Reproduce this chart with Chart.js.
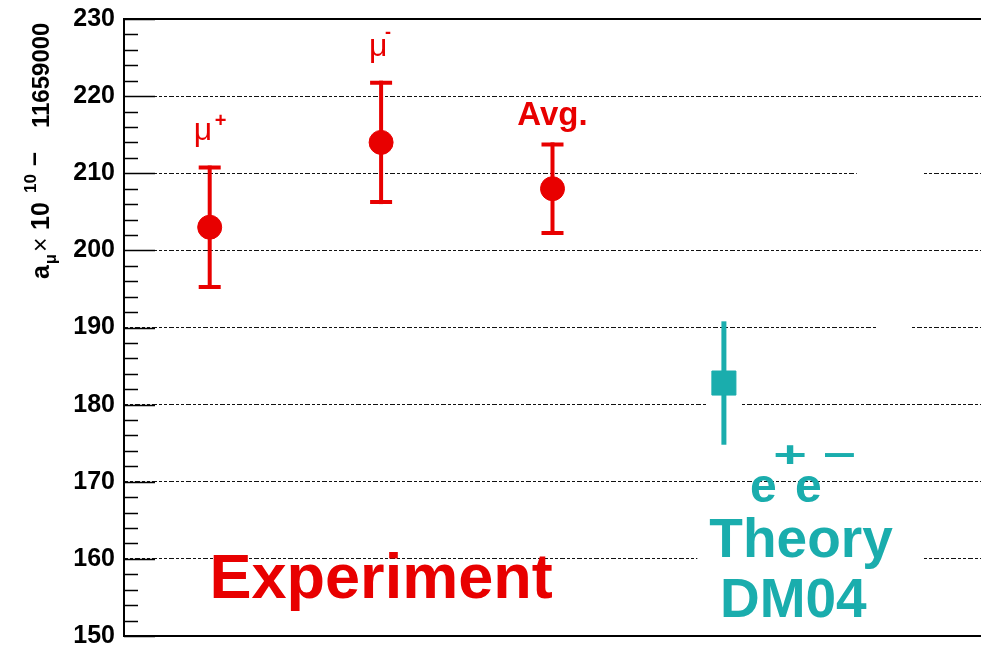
<!DOCTYPE html>
<html>
<head>
<meta charset="utf-8">
<title>Muon g-2: experiment vs. theory</title>
<script src="https://cdn.jsdelivr.net/npm/chart.js@4.4.1/dist/chart.umd.min.js"></script>
<style>
  html, body { margin: 0; padding: 0; background: #ffffff; }
  #wrap { width: 981px; height: 648px; }
</style>
</head>
<body>
<div id="wrap"><canvas id="c" width="981" height="648"></canvas></div>
<script>
// Measurements, in units of 1e-10 after subtracting 11659000
const categories = ['μ+', 'μ-', 'Avg.', 'e+e- Theory DM04'];
const xPositions = [0.1, 0.3, 0.5, 0.7];
const centralValues = [203, 214, 208, 182.8];
const errors = [8, 8, 6, 8];
const yTickValues = [150, 160, 170, 180, 190, 200, 210, 220, 230];

const FONT = '"Liberation Sans", Arial, Helvetica, sans-serif';
const RED = '#e80000';
const TEAL = '#1aadad';

const expPoints = [0, 1, 2].map(i => ({ x: xPositions[i], y: centralValues[i], err: errors[i] }));
const thPoints = [3].map(i => ({ x: xPositions[i], y: centralValues[i], err: errors[i] }));

// White strips that interrupt the dashed grid around the theory labels
const gridGaps = [
  { y: 210, x0: 0.855, x1: 0.933 },
  { y: 190, x0: 0.879, x1: 0.919 },
  { y: 180, x0: 0.681, x1: 0.721 },
  { y: 160, x0: 0.669, x1: 0.933 }
];

function font(size, bold) { return (bold ? 'bold ' : '') + size + 'px ' + FONT; }

// Vertical error bars (with optional caps) under each marker
const errorBars = {
  id: 'errorBars',
  beforeDatasetsDraw(chart) {
    const { ctx, scales: { x, y } } = chart;
    ctx.save();
    // grid gaps first, so the bars sit on top
    ctx.fillStyle = '#ffffff';
    gridGaps.forEach(g => {
      const py = y.getPixelForValue(g.y);
      const xa = x.getPixelForValue(g.x0), xb = x.getPixelForValue(g.x1);
      ctx.fillRect(xa, py - 3, xb - xa, 6);
    });
    chart.data.datasets.forEach(ds => {
      ctx.strokeStyle = ds.borderColor;
      ctx.lineWidth = ds.barWidth;
      ds.data.forEach(p => {
        const px = x.getPixelForValue(p.x);
        const top = y.getPixelForValue(p.y + p.err);
        const bot = y.getPixelForValue(p.y - p.err);
        ctx.beginPath();
        ctx.moveTo(px, top);
        ctx.lineTo(px, bot);
        ctx.stroke();
        if (ds.capHalf) {
          ctx.beginPath();
          ctx.moveTo(px - ds.capHalf, top + ds.barWidth / 2);
          ctx.lineTo(px + ds.capHalf, top + ds.barWidth / 2);
          ctx.moveTo(px - ds.capHalf, bot - ds.barWidth / 2);
          ctx.lineTo(px + ds.capHalf, bot - ds.barWidth / 2);
          ctx.stroke();
        }
      });
    });
    ctx.restore();
  }
};

// Frame, inward ticks and the rotated y-axis title
const frame = {
  id: 'frame',
  afterDatasetsDraw(chart) {
    const { ctx, chartArea: a, scales: { y } } = chart;
    ctx.save();
    ctx.strokeStyle = '#000';
    ctx.lineWidth = 2;
    ctx.beginPath();
    ctx.moveTo(a.left - 1, a.top);
    ctx.lineTo(a.right, a.top);
    ctx.moveTo(a.left - 1, a.bottom);
    ctx.lineTo(a.right, a.bottom);
    ctx.stroke();

    ctx.lineWidth = 1.6;
    ctx.beginPath();
    for (let v = y.min; v <= y.max + 1e-9; v += 2) {
      const py = Math.round(y.getPixelForValue(v)) + 0.5;
      const major = Math.abs(v % 10) < 1e-9;
      ctx.moveTo(a.left, py);
      ctx.lineTo(a.left + (major ? 31 : 14), py);
    }
    ctx.stroke();

    // y-axis title: a_mu x 10^10 - 11659000
    ctx.translate(49, 279);
    ctx.rotate(-Math.PI / 2);
    ctx.fillStyle = '#000';
    ctx.textBaseline = 'alphabetic';
    ctx.textAlign = 'left';
    ctx.font = font(25, true);
    ctx.fillText('a', 0, 0);
    ctx.font = font(16, true);
    ctx.fillText('μ', 15, 7);
    ctx.font = font(25, false);
    ctx.fillText('×', 27, 0);
    ctx.font = font(25, true);
    ctx.fillText('10', 49, 0);
    ctx.font = font(17, true);
    ctx.fillText('10', 86, -13);
    ctx.font = font(25, true);
    ctx.fillText('–', 113, -7);
    ctx.font = font(24, true);
    ctx.fillText('11659000', 151, 0);
    ctx.restore();
  }
};

// Point labels and group captions
const captions = {
  id: 'captions',
  afterDatasetsDraw(chart) {
    const { ctx, scales: { x, y } } = chart;
    ctx.save();
    ctx.textBaseline = 'alphabetic';

    function put(text, f, color, px, py, align, sx) {
      ctx.save();
      ctx.font = f;
      ctx.fillStyle = color;
      ctx.textAlign = align || 'left';
      ctx.translate(px, py);
      if (sx) ctx.scale(sx, 1);
      ctx.fillText(text, 0, 0);
      ctx.restore();
    }

    // mu+ label
    let cx = x.getPixelForValue(xPositions[0]);
    let by = y.getPixelForValue(214.3);
    put('μ', font(32, false), RED, cx - 16, by);
    put('+', font(20, true), RED, cx + 5, by - 13);

    // mu- label
    cx = x.getPixelForValue(xPositions[1]);
    by = y.getPixelForValue(225.2);
    put('μ', font(32, false), RED, cx - 12, by);
    put('-', font(18, true), RED, cx + 4, by - 18);

    // average label
    cx = x.getPixelForValue(xPositions[2]);
    put('Avg.', font(33, true), RED, cx, y.getPixelForValue(216.26), 'center');

    // experiment caption
    put('Experiment', font(63, true), RED, x.getPixelForValue(0.3), y.getPixelForValue(154.93), 'center');

    // theory caption: e+e-, Theory, DM04
    const ex = x.getPixelForValue(0.7305);
    const ey = y.getPixelForValue(167.37);
    put('e', font(48, true), TEAL, ex, ey);
    put('e', font(48, true), TEAL, ex + 45, ey);
    put('+', font(36, true), TEAL, ex + 40, ey - 35, 'center', 1.6);
    put('−', font(36, true), TEAL, ex + 89, ey - 35, 'center', 1.6);
    put('Theory', font(55, true), TEAL, x.getPixelForValue(0.79), y.getPixelForValue(160.24), 'center');
    put('DM04', font(55, true), TEAL, x.getPixelForValue(0.781), y.getPixelForValue(152.46), 'center');
    ctx.restore();
  }
};

new Chart(document.getElementById('c'), {
  type: 'scatter',
  data: {
    datasets: [
      {
        label: 'Experiment',
        data: expPoints,
        backgroundColor: RED,
        borderColor: RED,
        borderWidth: 1,
        pointStyle: 'circle',
        pointRadius: 12,
        pointHoverRadius: 12,
        barWidth: 4,
        capHalf: 11
      },
      {
        label: 'Theory',
        data: thPoints,
        backgroundColor: TEAL,
        borderColor: TEAL,
        borderWidth: 1,
        pointStyle: 'rect',
        pointRadius: 17,
        pointHoverRadius: 17,
        barWidth: 5,
        capHalf: 0
      }
    ]
  },
  options: {
    responsive: false,
    animation: false,
    devicePixelRatio: 1,
    layout: { autoPadding: false, padding: { top: 19, bottom: 12, left: 0, right: 0 } },
    plugins: { legend: { display: false }, tooltip: { enabled: false } },
    events: [],
    scales: {
      x: { type: 'linear', min: 0, max: 1, display: false },
      y: {
        type: 'linear',
        min: 150,
        max: 230,
        afterFit(scale) {
          scale.width = 124;
          scale.paddingTop = 0;
          scale.paddingBottom = 0;
        },
        afterBuildTicks(scale) { scale.ticks = yTickValues.map(v => ({ value: v })); },
        ticks: {
          color: '#000',
          padding: 9,
          font: { family: FONT, size: 25, weight: 'bold', lineHeight: 1 }
        },
        grid: { color: '#111', lineWidth: 1, drawTicks: false },
        border: { display: true, color: '#000', width: 2, dash: [3, 2, 3, 2, 5, 2] }
      }
    }
  },
  plugins: [errorBars, frame, captions]
});
</script>
</body>
</html>
